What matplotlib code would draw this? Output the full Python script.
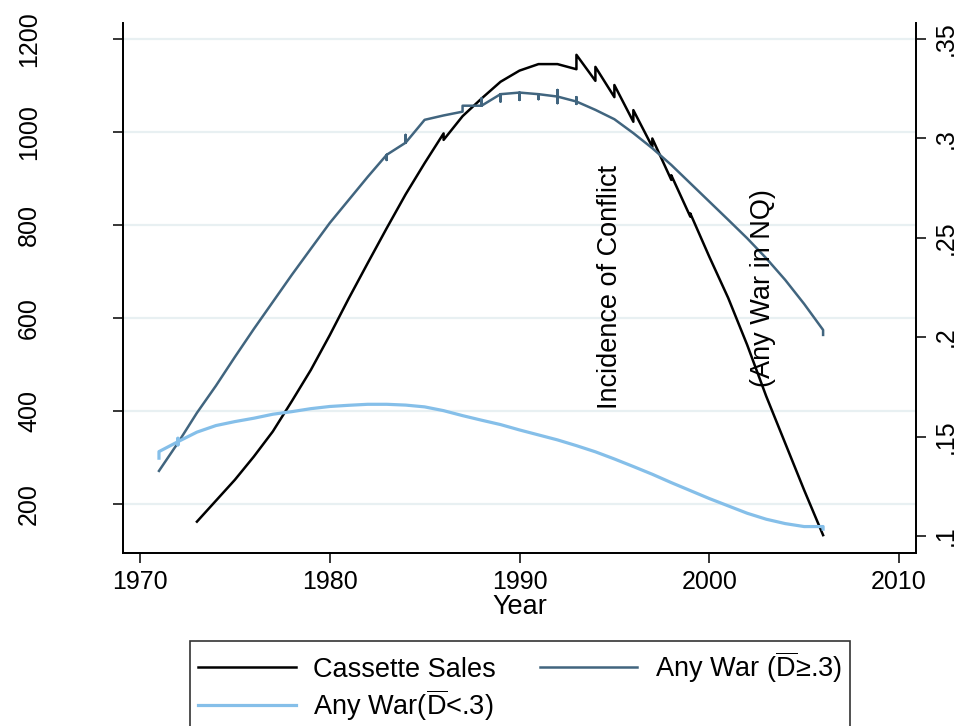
import matplotlib
matplotlib.use('Agg')
import matplotlib.pyplot as plt

plt.rcParams['font.family'] = ['Liberation Sans', 'DejaVu Sans']
plt.rcParams['mathtext.fontset'] = 'custom'
plt.rcParams['mathtext.rm'] = 'Liberation Sans'
plt.rcParams['mathtext.it'] = 'Liberation Sans:italic'

# ---- data (several observations per year where the original shows small jumps) ----
cass_year = [1973, 1974, 1975, 1976, 1977, 1978, 1979, 1980, 1981, 1982, 1983, 1984, 1985,
             1986, 1986, 1987, 1988, 1989, 1990, 1991, 1992,
             1993, 1993, 1994, 1994, 1995, 1995, 1996, 1996, 1997, 1997, 1998, 1998,
             1999, 1999, 2000, 2001, 2002, 2003, 2004, 2005, 2006]
cass_val = [162, 207, 252, 302, 356, 421, 488, 563, 642, 718, 793, 866, 933,
            997, 983, 1034, 1072, 1108, 1132, 1146, 1146,
            1135, 1166, 1110, 1140, 1075, 1101, 1022, 1047, 968, 986, 897, 907,
            818, 825, 732, 643, 542, 432, 331, 230, 133]

war_hi_year = [1971, 1972, 1973, 1974, 1975, 1976, 1977, 1978, 1979, 1980, 1981, 1982,
               1983, 1983, 1983, 1984, 1984, 1984, 1985, 1986, 1987, 1987,
               1988, 1988, 1988, 1989, 1989, 1989, 1990, 1990, 1990, 1991, 1991, 1991,
               1992, 1992, 1992, 1992, 1993, 1993, 1993, 1993,
               1994, 1995, 1996, 1997, 1998, 1999, 2000, 2001, 2002, 2003, 2004, 2005,
               2006, 2006]
war_hi_val = [0.1327, 0.1468, 0.1619, 0.1755, 0.1900, 0.2041, 0.2177, 0.2313, 0.2444, 0.2574, 0.2690, 0.2806,
              0.2917, 0.2891, 0.2917, 0.2978, 0.3017, 0.2978, 0.3093, 0.3115, 0.3134, 0.3164,
              0.3164, 0.3201, 0.3164, 0.3222, 0.3185, 0.3222, 0.3230, 0.3193, 0.3230, 0.3222, 0.3197, 0.3222,
              0.3210, 0.3243, 0.3177, 0.3210, 0.3185, 0.3207, 0.3173, 0.3185,
              0.3143, 0.3096, 0.3026, 0.2950, 0.2866, 0.2774, 0.2682, 0.2590, 0.2497, 0.2397, 0.2288, 0.2167,
              0.2036, 0.2011]

war_lo_year = [1971, 1971, 1972, 1972, 1972, 1972, 1973, 1974, 1975, 1976, 1977, 1978, 1979, 1980,
               1981, 1982, 1983, 1984, 1985, 1986, 1987, 1988, 1989, 1990, 1991, 1992,
               1993, 1994, 1995, 1996, 1997, 1998, 1999, 2000, 2001, 2002, 2003, 2004, 2005,
               2006, 2006]
war_lo_val = [0.1391, 0.1424, 0.1474, 0.1491, 0.1458, 0.1474, 0.1522, 0.1555, 0.1575, 0.1592, 0.1612, 0.1625, 0.1640, 0.1651,
              0.1657, 0.1662, 0.1662, 0.1658, 0.1649, 0.1630, 0.1605, 0.1582, 0.1560, 0.1533, 0.1508, 0.1483,
              0.1454, 0.1423, 0.1387, 0.1349, 0.1310, 0.1268, 0.1228, 0.1188, 0.1151, 0.1114, 0.1084, 0.1062, 0.1047,
              0.1047, 0.1034]

x_ticks = [1970, 1980, 1990, 2000, 2010]
left_ticks = [200, 400, 600, 800, 1000, 1200]
right_ticks = [0.10, 0.15, 0.20, 0.25, 0.30, 0.35]
right_tick_labels = ['.1', '.15', '.2', '.25', '.3', '.35']

labels = ['Cassette Sales', r'Any War ($\overline{\mathrm{D}}$≥.3)', r'Any War($\overline{\mathrm{D}}$<.3)']

# ---- figure ----
W, H = 963, 726
fig = plt.figure(figsize=(W / 100, H / 100), dpi=100)
fig.patch.set_facecolor('white')
ax = fig.add_axes([123 / W, 1 - 553 / H, (916 - 123) / W, (553 - 23) / H])
ax2 = ax.twinx()

FS = 18      # tick labels
TS = 19.5    # titles / legend
grid_c = '#e8f0f2'

ax.set_xlim(1969.104, 2010.896)
ax.set_ylim(94.6, 1234.4)
ax2.set_ylim(0.0914, 0.358)

for y in left_ticks:
    ax.axhline(y, color=grid_c, lw=1.6, zorder=0)

l1, = ax.plot(cass_year, cass_val, color='black', lw=1.8, zorder=3)
l2, = ax2.plot(war_hi_year, war_hi_val, color='#41657f', lw=1.8, zorder=3)
l3, = ax2.plot(war_lo_year, war_lo_val, color='#85bfe9', lw=2.3, zorder=3)

ax.set_xticks(x_ticks)
ax.set_xticklabels([str(v) for v in x_ticks], fontsize=FS)
ax.set_yticks(left_ticks)
ax.set_yticklabels([str(v) for v in left_ticks], fontsize=FS, rotation=90, va='center')
ax2.set_yticks(right_ticks)
ax2.set_yticklabels(right_tick_labels, fontsize=FS, rotation=90, va='center')

ax.tick_params(axis='x', length=7, width=1.1, pad=5, colors='black')
ax.tick_params(axis='y', length=7, width=1.1, pad=52, colors='black')
ax2.tick_params(axis='y', length=7, width=1.1, pad=6, colors='black')

for a in (ax, ax2):
    a.spines['top'].set_visible(False)
    for s in ('left', 'right', 'bottom'):
        a.spines[s].set_linewidth(1.3)
        a.spines[s].set_color('black')

ax.set_xlabel('Year', fontsize=TS, labelpad=0)

fig.text(610 / W, 1 - 287 / H, 'Incidence of Conflict', rotation=90, fontsize=TS,
         ha='center', va='center')
fig.text(763 / W, 1 - 288 / H, '(Any War in NQ)', rotation=90, fontsize=TS,
         ha='center', va='center')

leg = fig.legend([l1, l3, l2], [labels[0], labels[2], labels[1]], ncol=2,
                 loc='upper center', bbox_to_anchor=(520 / W, 1 - 641 / H),
                 borderaxespad=0,
                 fontsize=TS, frameon=True, fancybox=False, edgecolor='black',
                 handlelength=3.6, handletextpad=0.65, columnspacing=1.6,
                 labelspacing=0.15, borderpad=0.3)
leg.get_frame().set_linewidth(1.2)

fig.savefig('out.png', dpi=100, facecolor='white')
